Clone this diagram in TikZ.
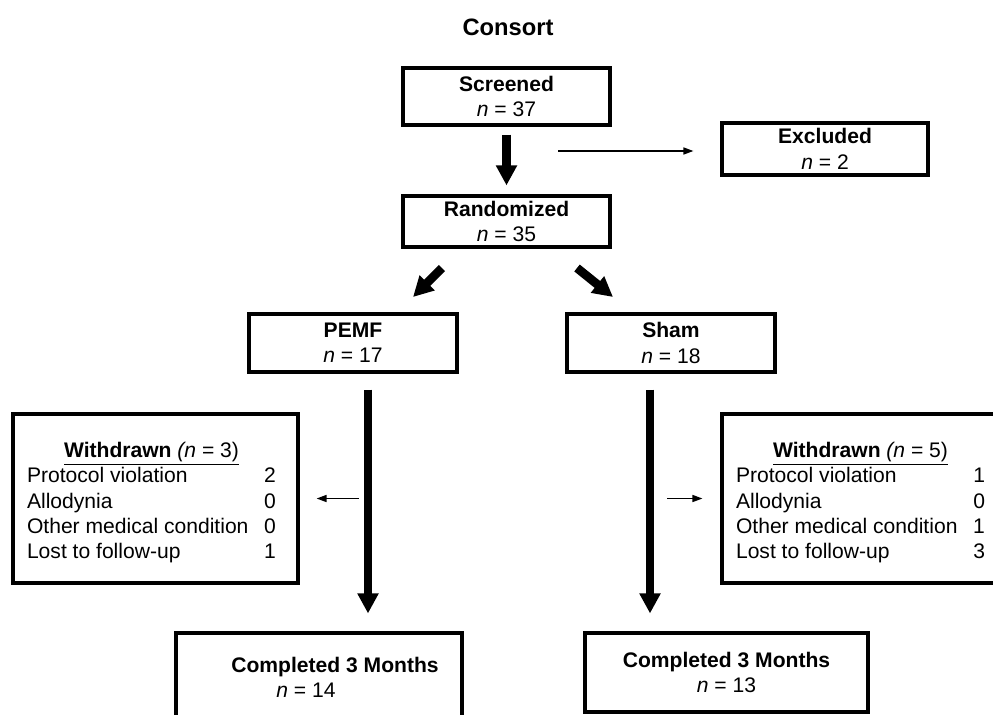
\documentclass[tikz,border=0pt]{standalone}
\usepackage{fontspec}
\setmainfont{Liberation Sans}
\usetikzlibrary{arrows.meta,calc,positioning}

\begin{document}
\begin{tikzpicture}[x=0.02cm,y=-0.02cm,
        every node/.style={font=\fontsize{12pt}{14.4pt}\selectfont},
        box/.style={draw,line width=1.8pt,align=center,inner sep=0pt},
        bigarrow/.style={line width=5pt,-{Triangle[length=0.4cm,width=0.4cm]}},
        thinarrow/.style={line width=0.9pt,-{Triangle[length=0.2cm,width=0.14cm]}}]
        \def\pw{0.02cm}
        \useasboundingbox (0,0) rectangle (993,714);
        \coordinate (aL) at (368,0);
        \coordinate (aR) at (650,0);
        \coordinate (exStart) at (558,151);
        \coordinate (dL1) at (442,268);
        \coordinate (dL2) at (413,297);
        \coordinate (dR1) at (577,268);
        \coordinate (dR2) at (613,297);
        %Title
        \node[font=\fontsize{13.5pt}{16pt}\selectfont\bfseries] (title) at (508,27) {Consort};
        %Boxes
        \node[box,minimum width={207*\pw},minimum height={57*\pw}] (scr) at (506.5,96.5) {\textbf{Screened}\\\textit{n} = 37};
        \node[box,minimum width={206*\pw},minimum height={52*\pw}] (excl) at (825,149) {\textbf{Excluded}\\\textit{n} = 2};
        \node[box,minimum width={207*\pw},minimum height={51*\pw}] (rand) at (506.5,221.5) {\textbf{Randomized}\\\textit{n} = 35};
        \node[box,minimum width={208*\pw},minimum height={58*\pw}] (pemf) at (353,343) {\textbf{PEMF}\\\textit{n} = 17};
        \node[box,minimum width={208*\pw},minimum height={58*\pw}] (sham) at (671,343) {\textbf{Sham}\\\textit{n} = 18};
        \node[box,minimum width={285*\pw},minimum height={169*\pw}] (wdL) at (155.5,498.5) {};
        \node[inner sep=0pt] (wdLtxt) at (151.5,503) {%
          \begin{tabular*}{4.98cm}{@{}l@{\extracolsep{\fill}}r@{}}
            \multicolumn{2}{c}{\underline{\textbf{Withdrawn} \textit{(n} = 3)}}\\
            Protocol violation & 2\\
            Allodynia & 0\\
            Other medical condition & 0\\
            Lost to follow-up & 1
          \end{tabular*}};
        \node[box,minimum width={277*\pw},minimum height={169*\pw}] (wdR) at (860.5,498.5) {};
        \node[inner sep=0pt] (wdRtxt) at (860.5,503) {%
          \begin{tabular*}{4.98cm}{@{}l@{\extracolsep{\fill}}r@{}}
            \multicolumn{2}{c}{\underline{\textbf{Withdrawn} \textit{(n} = 5)}}\\
            Protocol violation & 1\\
            Allodynia & 0\\
            Other medical condition & 1\\
            Lost to follow-up & 3
          \end{tabular*}};
        \node[box,minimum width={286*\pw},minimum height={94*\pw}] (compL) at (319,680) {};
        \node[align=left] (compLtxt) at (335,677) {\textbf{Completed 3 Months}\\\hspace*{0.9cm}\textit{n} = 14};
        \node[box,minimum width={283*\pw},minimum height={79*\pw}] (compR) at (726.5,672.5) {\textbf{Completed 3 Months}\\\textit{n} = 13};
        %Arrows
        \draw[bigarrow,shorten <=0.16cm,shorten >=0.18cm] (scr.south) -- (rand.north);
        \draw[thinarrow,shorten >=0.54cm] (exStart) -- (exStart -| excl.west);
        \draw[bigarrow] (dL1) -- (dL2);
        \draw[bigarrow] (dR1) -- (dR2);
        \draw[bigarrow,shorten <=0.32cm,shorten >=0.36cm] (pemf.south -| aL) -- (compL.north -| aL);
        \draw[bigarrow,shorten <=0.32cm,shorten >=0.36cm] (sham.south -| aR) -- (compR.north -| aR);
        \draw[thinarrow,shorten <=0.18cm,shorten >=0.34cm] (aL |- wdL.east) -- (wdL.east);
        \draw[thinarrow,shorten <=0.34cm,shorten >=0.36cm] (aR |- wdR.west) -- (wdR.west);
      \end{tikzpicture}
\end{document}
